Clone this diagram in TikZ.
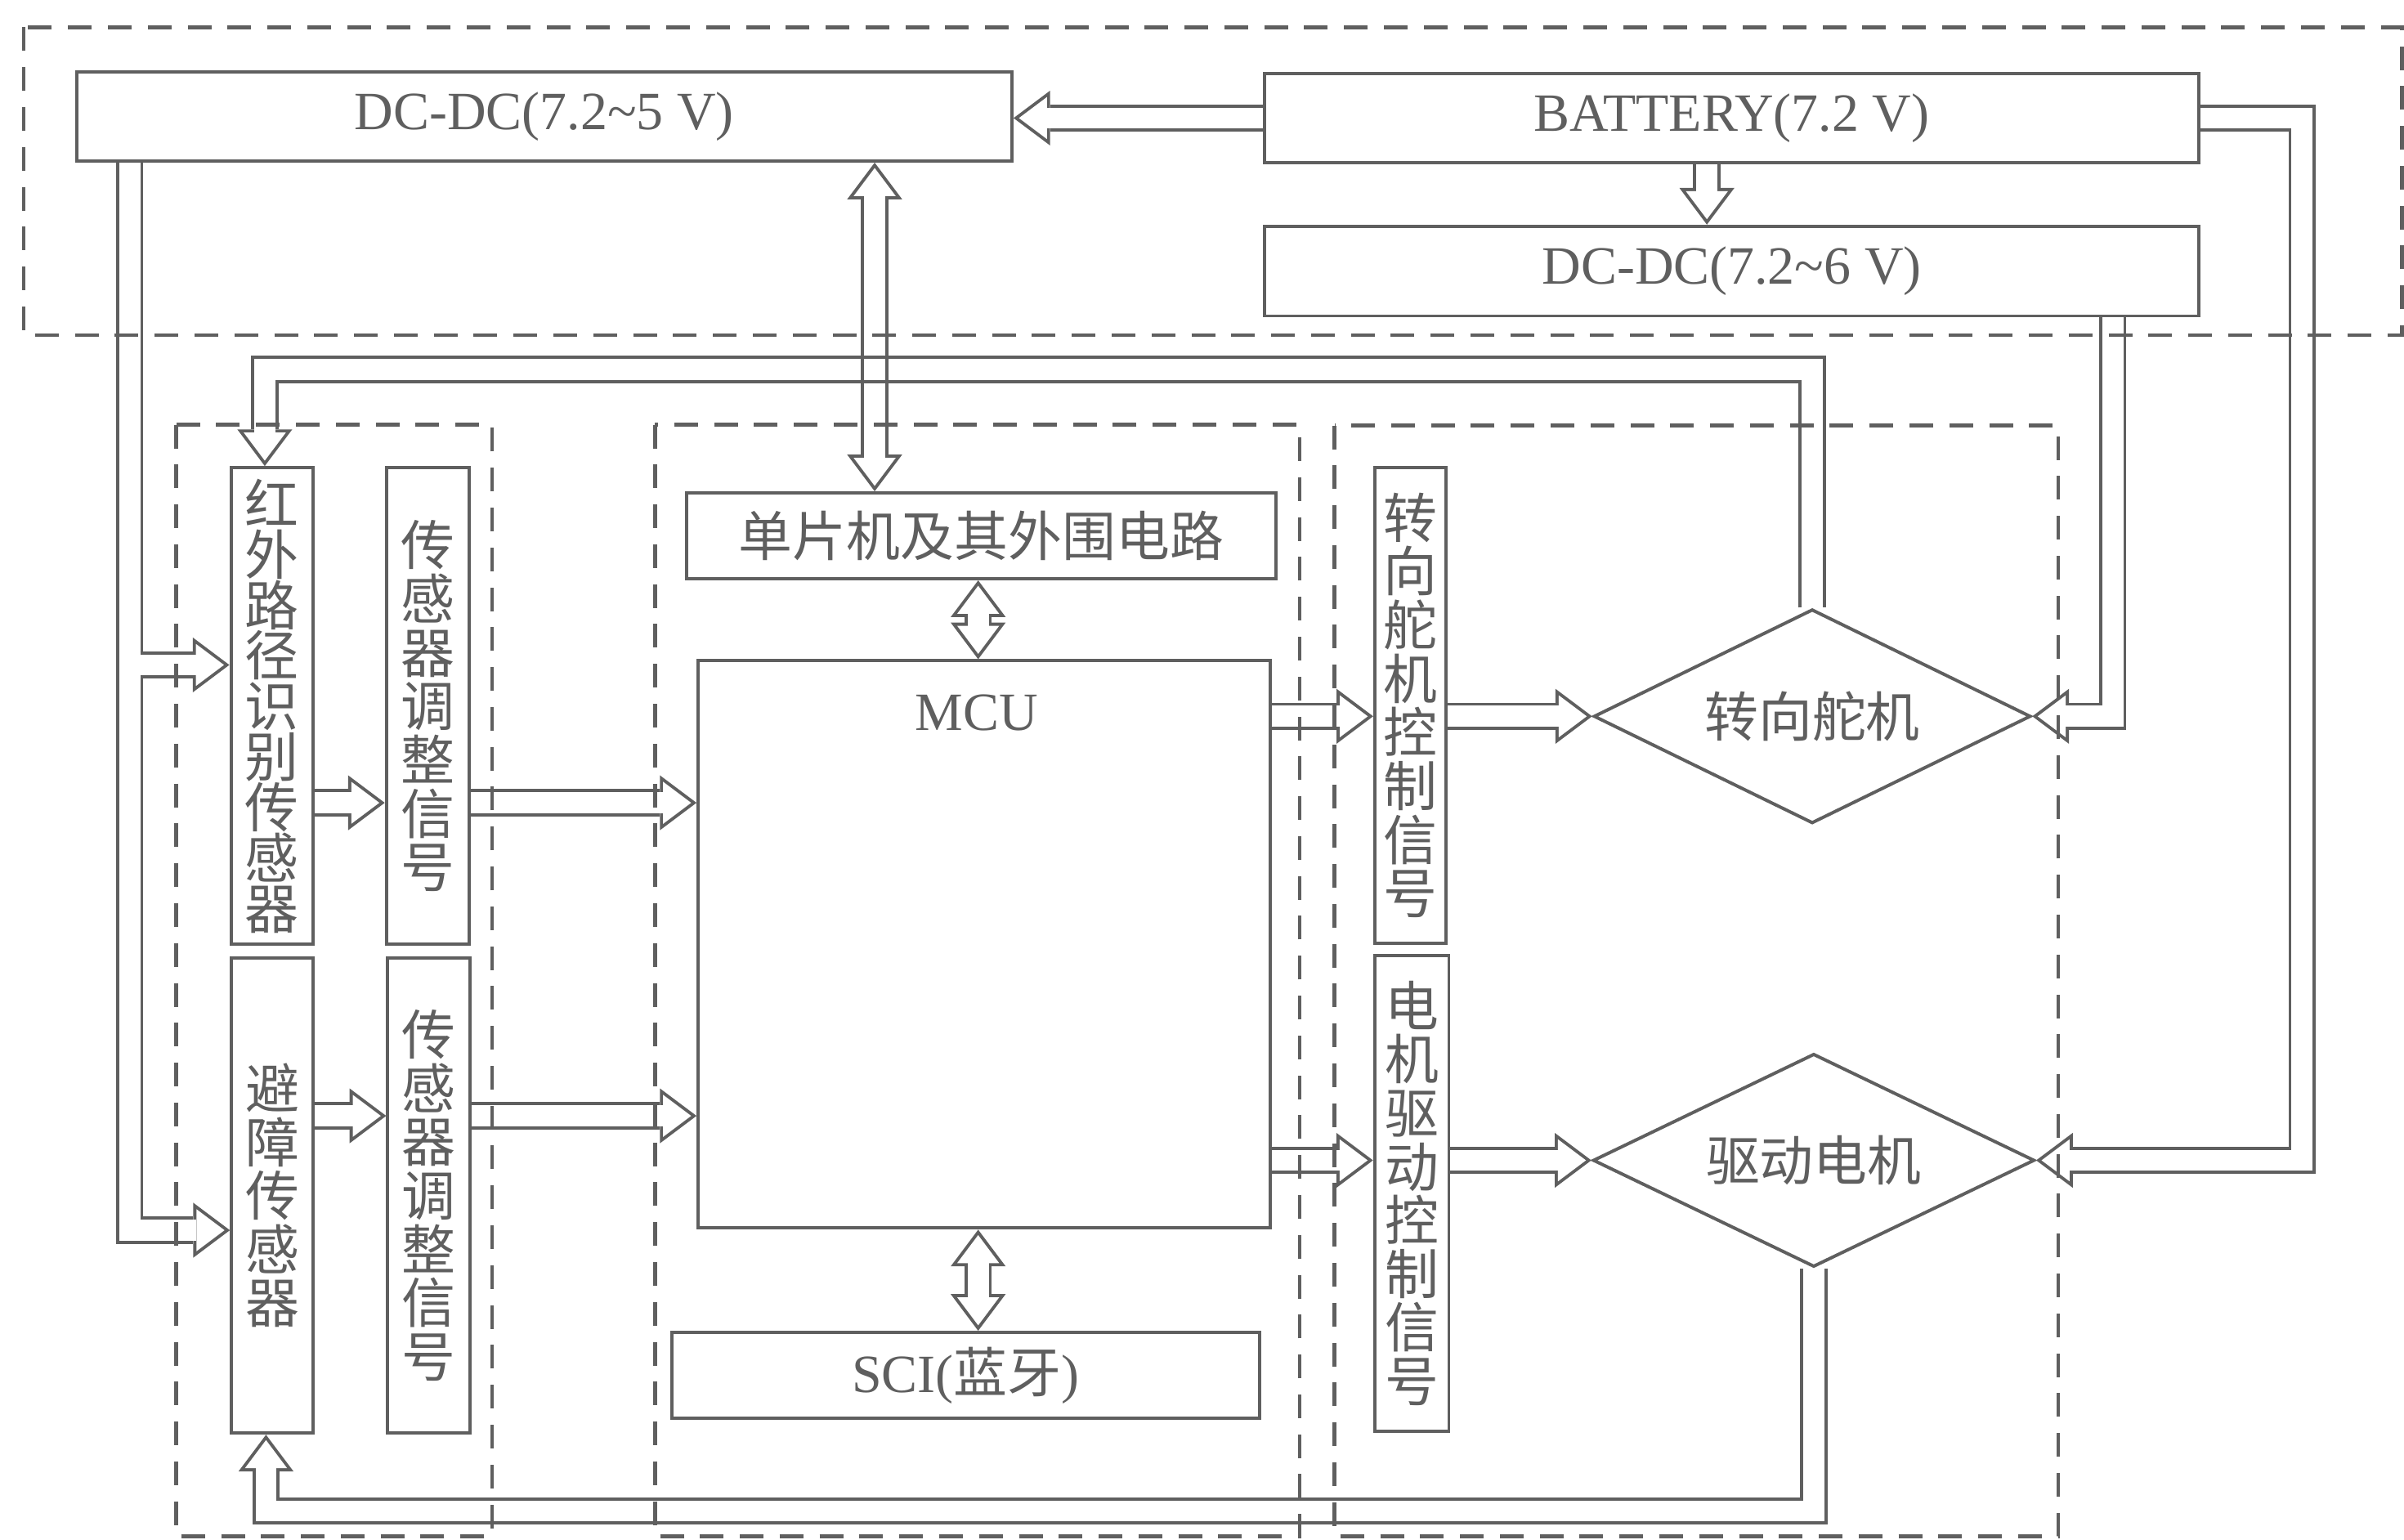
\documentclass[tikz,border=0pt]{standalone}
\usepackage{fontspec}
\setmainfont{Liberation Serif}
\newfontfamily\cjk{Noto Sans CJK SC}
\usetikzlibrary{arrows.meta,calc,shapes.geometric}
\definecolor{lgray}{RGB}{95,95,95}
\pgfdeclarelayer{bg}
\pgfsetlayers{bg,main}
\tikzset{
  otip/.tip={Triangle[length=6.8pt, width=10.2pt, line width=0pt]},
  itip/.tip={Triangle[length=5.2pt, width=7.8pt, line width=0pt]},
  pipeto/.style={draw=lgray, line width=5.1pt, line join=miter, -otip,
    postaction={draw=white, line width=3.9pt, shorten >=1pt, -itip}},
  pipebi/.style={draw=lgray, line width=5.1pt, line join=miter, otip-otip,
    postaction={draw=white, line width=3.9pt, shorten >=1pt, shorten <=1pt, itip-itip}},
  wall/.style={draw=lgray, line width=0.6pt},
  blk/.style={draw=lgray, line width=0.6pt, text=lgray, inner sep=0pt,
    font=\fontsize{10pt}{12pt}\selectfont},
  vblk/.style={blk, align=center, font=\cjk\fontsize{10pt}{0.35cm}\selectfont},
  dmd/.style={diamond, draw=lgray, line width=0.6pt, text=lgray, inner sep=1pt,
    shape aspect=2.05, font=\cjk\fontsize{10pt}{12pt}\selectfont},
  grp/.style={draw=lgray, line width=0.7pt, dash pattern=on 4.4pt off 3pt},
}

\begin{document}
\begin{tikzpicture}
\useasboundingbox (0,0) rectangle (15.68,-10.04);
% power
\node[blk, minimum width=6.10cm, minimum height=0.58cm] (dc5) at (3.55,-0.76) {DC-DC(7.2\textasciitilde 5 V)};
\node[blk, minimum width=6.09cm, minimum height=0.58cm] (bat) at (11.295,-0.77) {BATTERY(7.2 V)};
\node[blk, minimum width=6.09cm, minimum height=0.585cm] (dc6) at (11.295,-1.768) {DC-DC(7.2\textasciitilde 6 V)};
% sensors
\node[vblk, minimum width=0.537cm, minimum height=3.11cm, font=\cjk\fontsize{10pt}{0.33cm}\selectfont] (ir) at (1.775,-4.605) {红\\外\\路\\径\\识\\别\\传\\感\\器};
\node[vblk, minimum width=0.54cm, minimum height=3.11cm] (adj1) at (2.79,-4.605) {传\\感\\器\\调\\整\\信\\号};
\node[vblk, minimum width=0.534cm, minimum height=3.10cm] (obs) at (1.777,-7.797) {避\\障\\传\\感\\器};
\node[vblk, minimum width=0.535cm, minimum height=3.10cm] (adj2) at (2.797,-7.797) {传\\感\\器\\调\\整\\信\\号};
% controller
\node[blk, minimum width=3.84cm, minimum height=0.56cm, font=\cjk\fontsize{10pt}{12pt}\selectfont] (mcuper) at (6.40,-3.495) {单片机及其外围电路};
\node[blk, minimum width=3.733cm, minimum height=3.70cm,
  label={[anchor=center, text=lgray, font=\fontsize{10pt}{12pt}\selectfont, xshift=-0.05cm, yshift=-0.35cm]north:MCU}] (mcu) at (6.42,-6.16) {};
\node[blk, minimum width=3.835cm, minimum height=0.56cm] (sci) at (6.298,-8.97) {SCI({\cjk 蓝牙})};
% actuators
\node[vblk, minimum width=0.466cm, minimum height=3.10cm] (steerctl) at (9.20,-4.60) {转\\向\\舵\\机\\控\\制\\信\\号};
\node[vblk, minimum width=0.484cm, minimum height=3.10cm] (motorctl) at (9.208,-7.783) {电\\机\\驱\\动\\控\\制\\信\\号};
\node[dmd, minimum width=2.85cm, minimum height=1.396cm] (servo) at (11.82,-4.672) {转向舵机};
\node[dmd, minimum width=2.88cm, minimum height=1.39cm] (motor) at (11.83,-7.568) {驱动电机};

\coordinate (c5) at (0.846,-8.024);
\coordinate (c5b) at (0.915,-4.337);
\coordinate (cT) at (1.727,-2.41);
\coordinate (cB) at (1.735,-9.855);
\coordinate (cR) at (15.015,-0.777);
\coordinate (c6) at (13.78,-1.768);
\coordinate (cV) at (5.705,-2.0);
\coordinate (cM) at (6.38,-6.16);
\coordinate (cD) at (11.133,-1.2);
\coordinate (yA) at (0,-5.236);
\coordinate (yB) at (0,-7.278);

\begin{pgfonlayer}{bg}
\draw[pipeto] (servo.north) |- (cT) -- (cT |- ir.north);
\draw[pipeto] (bat.west) -- (bat.west -| dc5.east);
\draw[pipeto] (cD |- bat.south) -- (cD |- dc6.north);
\draw[pipebi] (cV |- dc5.south) -- (cV |- mcuper.north);
\draw[wall] ($(cV |- cT)+(-2.6pt,2.25pt)$) -- ++(5.2pt,0) ($(cV |- cT)+(-2.6pt,-2.25pt)$) -- ++(5.2pt,0);
\draw[pipebi] (cM |- mcuper.south) -- (cM |- mcu.north);
\draw[pipebi] (cM |- mcu.south) -- (cM |- sci.north);
\draw[pipeto] (c5 |- dc5.south) -- (c5) -- (c5 -| obs.west);
\draw[pipeto] (c5b) -- (c5b -| ir.west);
\draw[pipeto] (ir.east |- yA) -- (adj1.west |- yA);
\draw[pipeto] (adj1.east |- yA) -- (mcu.west |- yA);
\draw[pipeto] (obs.east |- yB) -- (adj2.west |- yB);
\draw[pipeto] (adj2.east |- yB) -- (mcu.west |- yB);
\draw[pipeto] (mcu.east |- servo.west) -- (steerctl.west |- servo.west);
\draw[pipeto] (steerctl.east |- servo.west) -- (servo.west);
\draw[pipeto] (mcu.east |- motor.west) -- (motorctl.west |- motor.west);
\draw[pipeto] (motorctl.east |- motor.west) -- (motor.west);
\draw[pipeto] (c6 |- dc6.south) |- (servo.east);
\draw[pipeto] (bat.east) -| (cR |- motor.east) -- (motor.east);
\draw[pipeto] (motor.south) |- (cB) -- (cB |- obs.south);
\end{pgfonlayer}

% groups
\draw[grp] (0.155,-0.178) rectangle (15.665,-2.185);
\draw[grp] (1.15,-2.77) rectangle (3.21,-10.02);
\draw[grp] (4.273,-2.77) rectangle (8.476,-10.02);
\draw[grp] (8.705,-2.775) rectangle (13.425,-10.02);
\end{tikzpicture}
\end{document}
